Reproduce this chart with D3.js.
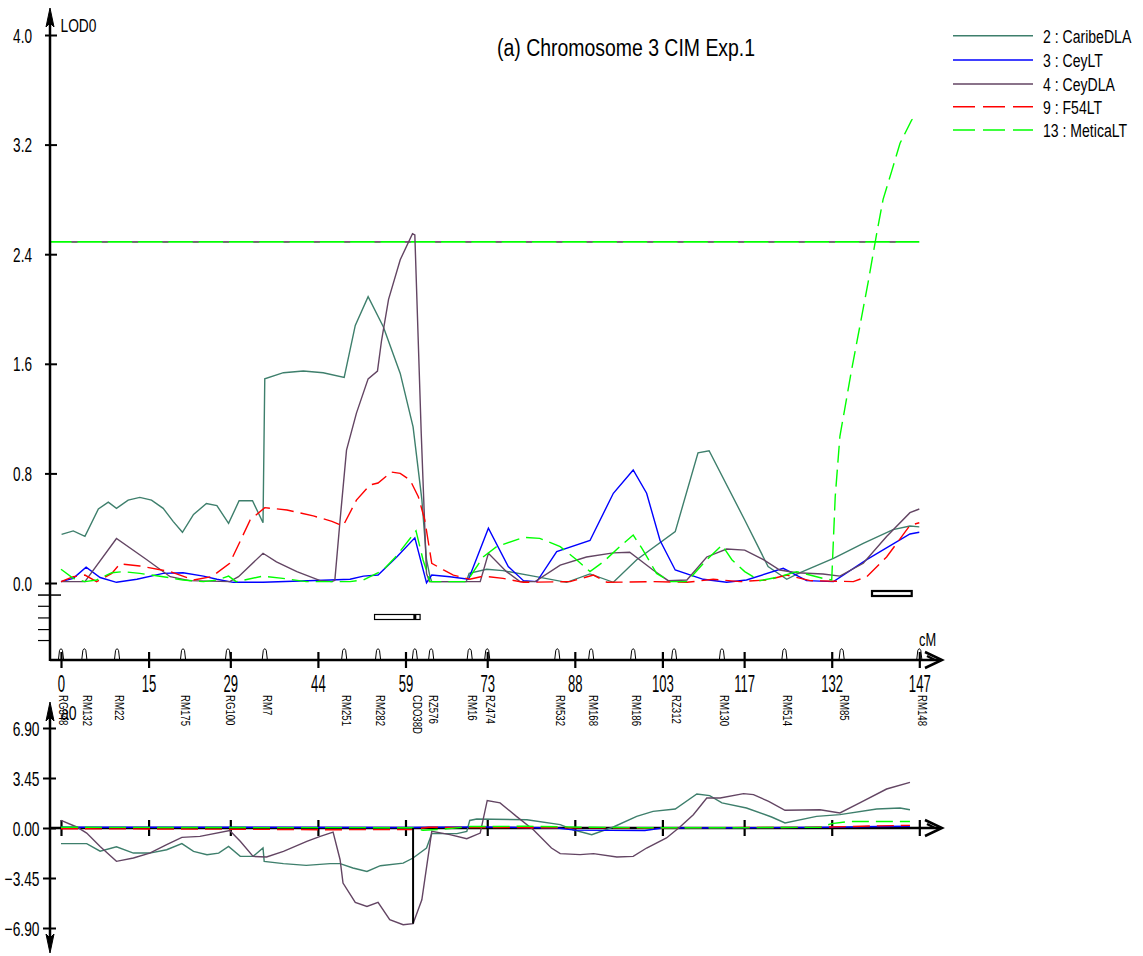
<!DOCTYPE html>
<html>
<head>
<meta charset="utf-8">
<script src="https://cdn.jsdelivr.net/npm/d3@7"></script>
<style>
  body { margin: 0; background: #fff; }
  svg { display: block; }
  text { font-family: "Liberation Sans", Arial, sans-serif; fill: #000; }
</style>
</head>
<body>
<svg id="chart" width="1143" height="956"></svg>
<script>
// ---- Data: LOD profiles along chromosome 3 (cM, LOD) ----
const caribeDLA = [[0.1,0.355],[2.1,0.38],[4.1,0.34],[6.4,0.54],[8.1,0.59],[9.5,0.545],[11.5,0.605],[13.5,0.625],[15.5,0.605],[17.5,0.545],[19.2,0.45],[20.8,0.37],[22.7,0.50],[24.9,0.58],[26.7,0.565],[28.7,0.435],[30.5,0.60],[32.8,0.60],[34.6,0.44],[34.9,1.49],[38.1,1.535],[41.5,1.547],[44.9,1.535],[48.5,1.50],[50.4,1.88],[52.6,2.09],[55.2,1.87],[58.1,1.53],[60.3,1.14],[61.8,0.61],[62.6,0.17],[63.2,0.046],[63.5,0.01],[69.4,0.01],[69.9,0.07],[72.9,0.10],[75.7,0.09],[80.9,0.05],[86.6,0.005],[90.6,0.066],[94.6,0.005],[98.6,0.17],[105.2,0.375],[109.1,0.95],[111.0,0.965],[117.1,0.46],[121.1,0.12],[124.3,0.027],[126.3,0.07],[132.3,0.18],[137.4,0.29],[142.5,0.39],[145.4,0.416],[147,0.41]];
const ceyLT = [[0,0.01],[2.1,0.034],[4.3,0.115],[6.7,0.04],[9.5,0.005],[13.0,0.027],[17.5,0.07],[20.9,0.075],[24.4,0.05],[26.7,0.027],[29.5,0.005],[34.6,0.005],[46.1,0.022],[49.5,0.027],[51.8,0.05],[54.3,0.058],[57.5,0.19],[60.6,0.33],[62.6,0.002],[63.5,0.058],[66.6,0.046],[69.8,0.027],[73.2,0.40],[76.6,0.12],[79.2,0.017],[81.5,0.01],[84.9,0.23],[90.6,0.31],[94.6,0.655],[98.0,0.825],[100.3,0.655],[102.6,0.31],[105.2,0.095],[110,0.027],[114,0.005],[117.4,0.022],[123.7,0.107],[127.7,0.017],[132.3,0.01],[138,0.17],[145.4,0.358],[147,0.37]];
const ceyDLA = [[0,0.01],[4.1,0.01],[9.5,0.325],[14.7,0.17],[18.7,0.046],[22,0.017],[28.9,0.01],[30.4,0.046],[34.6,0.217],[36.9,0.155],[40.4,0.083],[44.4,0.017],[46.4,0.01],[46.9,0.02],[47.8,0.46],[48.9,0.97],[50.6,1.24],[52.6,1.49],[54.2,1.547],[54.9,1.77],[56.1,2.07],[58.1,2.36],[60.2,2.55],[60.6,2.54],[61.7,1.09],[62.6,0.07],[63.1,0.01],[71.8,0.01],[73.2,0.217],[76.3,0.083],[78.6,0.01],[81.2,0.01],[85.5,0.13],[90.0,0.19],[94.6,0.22],[97.4,0.224],[101.4,0.095],[104,0.017],[107.2,0.022],[110.6,0.19],[114.0,0.248],[117.1,0.24],[120.3,0.17],[123.1,0.095],[126,0.075],[130.5,0.066],[133.4,0.05],[137.4,0.144],[141.4,0.34],[145.4,0.513],[147,0.54]];
const f54LT = [[0,0.01],[2.1,0.046],[4.1,0.058],[6.1,0.01],[8.7,0.07],[10.1,0.14],[13.5,0.124],[18.7,0.083],[22.7,0.022],[25.8,0.046],[28.9,0.144],[32.4,0.46],[34.9,0.55],[38.7,0.533],[43.2,0.49],[46.4,0.45],[48.3,0.416],[50.6,0.605],[52.9,0.715],[54.3,0.73],[56.6,0.81],[58.1,0.80],[59.8,0.75],[61.2,0.63],[62.3,0.46],[63.5,0.144],[65.5,0.095],[67.2,0.058],[70,0.027],[72.3,0.05],[75.7,0.034],[79.2,0.005],[87.2,0.01],[91.2,0.058],[93.5,0.005],[101.4,0.01],[107.2,0.005],[111.7,0.027],[116.3,0.01],[120.9,0.022],[124.3,0.058],[128.3,0.017],[135.7,0.01],[138,0.046],[141.4,0.19],[145.4,0.42],[147,0.44]];
const meticaLT = [[0,0.10],[2.1,0.034],[4.1,0.01],[6.1,0.022],[8.7,0.075],[10.7,0.083],[13.5,0.07],[17.5,0.046],[20.9,0.022],[24.4,0.01],[26.7,0.022],[28.7,0.05],[30,0.01],[34.6,0.05],[38,0.034],[42,0.01],[49.5,0.01],[51.8,0.022],[55.2,0.095],[57.5,0.20],[60.8,0.38],[62,0.17],[63.2,0.01],[69.5,0.01],[72.3,0.19],[74.6,0.265],[79.2,0.333],[82,0.326],[85.5,0.265],[88.3,0.17],[90.6,0.083],[92.9,0.155],[95.7,0.265],[98,0.35],[99.5,0.253],[102,0.07],[104.3,0.01],[107.2,0.01],[110.6,0.17],[113.2,0.277],[114.9,0.17],[117.1,0.083],[119.7,0.017],[123.1,0.046],[126,0.083],[130.5,0.034],[132,0.022],[132.6,0.63],[133.4,1.07],[134.6,1.36],[135.4,1.555],[136.8,1.87],[138.3,2.21],[139.7,2.55],[140.8,2.80],[142.3,3.01],[143.7,3.21],[145.7,3.38],[146.3,3.40]];

// ---- Data: additive effects (cM, effect) ----
const caribeDLAAdd = [[0,-1.08],[4.4,-1.08],[6.7,-1.6],[9.5,-1.3],[12.4,-1.73],[15.2,-1.73],[18.1,-1.5],[20.7,-1.08],[22.7,-1.61],[25,-1.84],[27,-1.73],[28.7,-1.27],[30.7,-1.96],[32.9,-1.96],[34.6,-1.38],[34.8,-2.3],[38.1,-2.46],[42,-2.58],[46.1,-2.46],[47.8,-2.46],[50,-2.76],[52.4,-3.0],[54.7,-2.6],[58.6,-2.42],[60.3,-2.07],[62.6,-1.38],[63.5,-0.39],[67.8,-0.39],[69.5,-0.23],[70,0.52],[71.2,0.62],[79.8,0.57],[85.5,0.23],[87.7,-0.12],[90.9,-0.46],[94.6,0.07],[98.6,0.80],[101.4,1.15],[105.2,1.31],[108.9,2.35],[111.1,2.23],[113.2,1.73],[117.4,1.38],[121.7,0.76],[124,0.35],[129.4,0.80],[133.4,0.92],[139.7,1.31],[143.7,1.38],[145.4,1.26]];
const ceyLTAdd = [[0,0.05],[30,0.05],[60,0.03],[63,0.05],[72,0.08],[85,0.0],[88,-0.15],[100,-0.17],[103,0.0],[117,0.02],[132,0.05],[140,0.1],[145.4,0.12]];
const ceyDLAAdd = [[0,0.52],[2.7,0.07],[4.4,-0.35],[6.7,-1.27],[9.5,-2.3],[12.4,-2.07],[15.2,-1.73],[18.1,-1.15],[20.7,-0.65],[23.8,-0.58],[28.9,-0.17],[30.7,-0.92],[32.9,-1.96],[35.2,-2.0],[38.1,-1.61],[42.1,-0.92],[44.4,-0.58],[46.6,-0.28],[47.8,-2.19],[48.3,-3.8],[50.4,-5.13],[52.4,-5.41],[54.3,-5.13],[56.3,-6.33],[58.6,-6.67],[60.3,-6.6],[61.8,-4.95],[63.5,-0.23],[66.6,-0.46],[69.5,-0.74],[71.8,-0.35],[73,1.9],[75.2,1.73],[78,0.80],[80.9,-0.12],[84,-1.38],[85.5,-1.77],[88.9,-1.84],[91.2,-1.77],[95.2,-2.0],[98,-1.96],[100.3,-1.38],[103.7,-0.69],[106,0.07],[108.3,0.92],[110.6,2.07],[112.9,2.07],[116.9,2.37],[118.6,2.3],[121.2,1.84],[124,1.22],[130,1.26],[133.4,1.04],[136.8,1.73],[141.4,2.69],[145.4,3.15]];
const f54LTAdd = [[0,-0.05],[28,-0.08],[45,-0.12],[60,-0.1],[63,0.05],[80,0.02],[100,0.0],[130,0.05],[140,0.15],[145.4,0.18]];
const meticaLTAdd = [[0,0.05],[30,0.03],[60,0.02],[62,-0.15],[65,-0.1],[70,0.1],[80,0.12],[90,0.05],[100,0.02],[115,0.02],[130,0.05],[132,0.3],[135,0.45],[145.4,0.45]];

// Peak of the CeyDLA QTL (cM, additive effect)
const peakEffect = [60.3, -6.6];

// ---- Axes, markers, threshold, support intervals ----
const xTicks = [0,15,29,44,59,73,88,103,117,132,147];
const lodTicks = [0.0,0.8,1.6,2.4,3.2,4.0];
const addTicks = [6.9,3.45,0,-3.45,-6.9];
const lodMinorTicks = [-0.17,-0.255,-0.34,-0.42];
const threshold = 2.49;
const markerPos = [0,4.0,9.6,20.9,28.6,34.9,48.5,54.3,60.6,63.4,70.0,73.0,85.0,90.8,98.0,105.0,113.2,123.9,133.7,147];
const markerNames = ["RG348","RM132","RM22","RM175","RG100","RM7","RM251","RM282","CDO38D","RZ576","RM16","RZ474","RM532","RM168","RM186","RZ312","RM130","RM514","RM85","RM148"];
const intervals = [[53.7,61.5],[138.9,145.7]];
const intervalPeak = 60.6;

const seriesNames = ["2 : CaribeDLA","3 : CeyLT","4 : CeyDLA","9 : F54LT","13 : MeticaLT"];
const seriesColors = ["#3e7f6c","#0000ff","#634563","#ff0000","#00ff00"];
const seriesDash = [null,null,null,"17,7","17,7"];
const lodSeries = [caribeDLA, ceyLT, ceyDLA, f54LT, meticaLT];
const addSeries = [caribeDLAAdd, ceyLTAdd, ceyDLAAdd, f54LTAdd, meticaLTAdd];

const svg = d3.select("#chart");
svg.append("rect").attr("width",1143).attr("height",956).attr("fill","#fff");

const x = d3.scaleLinear().domain([0,147]).range([61,919.3]);
const yTop = d3.scaleLinear().domain([0,4]).range([583,35]);
const yBot = d3.scaleLinear().domain([-6.9,6.9]).range([928,728]);
const AX = 50;

function label(g, px, py, str, size, sx, anchor, rot) {
  return g.append("text")
    .attr("transform", `translate(${px},${py})` + (rot ? ` rotate(${rot})` : "") + ` scale(${sx},1)`)
    .attr("font-size", size)
    .attr("text-anchor", anchor || "start")
    .text(str);
}

// ---------- Upper panel: LOD ----------
const gTop = svg.append("g");

// threshold line
gTop.append("line").attr("x1",AX).attr("x2",x(147)).attr("y1",yTop(threshold)).attr("y2",yTop(threshold))
  .attr("stroke","#00ff00").attr("stroke-width",1.6);
gTop.append("line").attr("x1",AX).attr("x2",x(147)).attr("y1",yTop(threshold)).attr("y2",yTop(threshold))
  .attr("stroke","#7a5a7a").attr("stroke-width",1.6).attr("stroke-dasharray","6,24.3").attr("stroke-dashoffset",8.8);

// LOD curves
const lineTop = d3.line().x(d => x(d[0])).y(d => yTop(d[1]));
lodSeries.forEach((s,i) => {
  gTop.append("path").datum(s).attr("d", lineTop).attr("fill","none")
    .attr("stroke", seriesColors[i]).attr("stroke-width",1.4)
    .attr("stroke-dasharray", seriesDash[i]);
});

// support intervals
gTop.append("rect").attr("x",x(intervals[0][0])).attr("y",614.5)
  .attr("width",x(intervals[0][1])-x(intervals[0][0])).attr("height",5)
  .attr("fill","#fff").attr("stroke","#000").attr("stroke-width",1.2);
gTop.append("rect").attr("x",x(intervalPeak)-1.5).attr("y",614.5).attr("width",3).attr("height",5).attr("fill","#000");
gTop.append("rect").attr("x",x(intervals[1][0])).attr("y",591)
  .attr("width",x(intervals[1][1])-x(intervals[1][0])).attr("height",5)
  .attr("fill","#fff").attr("stroke","#000").attr("stroke-width",2.2);

// y axis
gTop.append("line").attr("x1",AX).attr("x2",AX).attr("y1",20).attr("y2",661).attr("stroke","#000").attr("stroke-width",2.5);
gTop.append("path").attr("d",`M${AX},8 L${AX-4},27 L${AX},23 L${AX+4},27 Z`).attr("fill","#000").attr("stroke","#000").attr("stroke-width",1);
const gy = gTop.append("g").attr("transform",`translate(${AX},0)`)
  .call(d3.axisLeft(yTop).tickValues(lodTicks).tickFormat(d3.format(".1f")).tickSize(0));
gy.select(".domain").remove();
gy.selectAll(".tick line").attr("x1",-5).attr("x2",7).attr("stroke","#000").attr("stroke-width",2);
gy.selectAll(".tick text").attr("x",0).attr("dy",null).attr("font-size",20).attr("text-anchor","end")
  .attr("transform","translate(-18,7) scale(0.68,1)");
gTop.append("line").attr("x1",38).attr("x2",61).attr("y1",yTop(-0.088)).attr("y2",yTop(-0.088)).attr("stroke","#000").attr("stroke-width",1.5);
lodMinorTicks.forEach(v => {
  gTop.append("line").attr("x1",38).attr("x2",AX).attr("y1",yTop(v)).attr("y2",yTop(v)).attr("stroke","#000").attr("stroke-width",1.2);
});
label(gTop, 60.5, 31.5, "LOD0", 18.6, 0.74);

// x axis
gTop.append("line").attr("x1",AX).attr("x2",941).attr("y1",660).attr("y2",660).attr("stroke","#000").attr("stroke-width",2.5);
gTop.append("path").attr("d","M925,652 L942,660 L925,668 M927,656 L935,660").attr("fill","none").attr("stroke","#000").attr("stroke-width",2.5);
const gx = gTop.append("g").attr("transform","translate(0,660)")
  .call(d3.axisBottom(x).tickValues(xTicks).tickFormat(d3.format("d")).tickSize(0));
gx.select(".domain").remove();
gx.selectAll(".tick line").attr("y1",-8).attr("y2",8).attr("stroke","#000").attr("stroke-width",2.2);
gx.selectAll(".tick text").attr("y",0).attr("dy",null).attr("font-size",23)
  .attr("transform","translate(0,31.5) scale(0.57,1)");
label(gTop, 919, 646, "cM", 18.6, 0.69);

// markers
const mg = gTop.append("g");
markerPos.forEach((m,i) => {
  const mx = x(m);
  mg.append("path").attr("d",`M${mx-2.5},659 L${mx-1.5},650.5 Q${mx},647 ${mx+1.5},650.5 L${mx+2.5},659`)
    .attr("fill","none").attr("stroke","#000").attr("stroke-width",1);
  label(mg, mx-1.7, 695, markerNames[i], 12.5, 0.77, "start", 90);
});

// title
label(svg, 497, 56, "(a) Chromosome 3 CIM Exp.1", 24, 0.81);

// legend
const lg = svg.append("g");
const legendRows = [35.7,60,84,106.7,130];
seriesNames.forEach((n,i) => {
  lg.append("line").attr("x1",953).attr("x2",1033).attr("y1",legendRows[i]).attr("y2",legendRows[i])
    .attr("stroke",seriesColors[i]).attr("stroke-width",1.4).attr("stroke-dasharray", seriesDash[i] ? "22,8" : null);
  label(lg, 1043, legendRows[i]+7, n, 19, 0.74);
});

// ---------- Lower panel: additive effects ----------
const gBot = svg.append("g");
gBot.append("line").attr("x1",AX).attr("x2",941).attr("y1",yBot(0)).attr("y2",yBot(0)).attr("stroke","#000").attr("stroke-width",2.5);
gBot.append("path").attr("d",`M925,${yBot(0)-8} L942,${yBot(0)} L925,${yBot(0)+8} M927,${yBot(0)-4} L935,${yBot(0)}`).attr("fill","none").attr("stroke","#000").attr("stroke-width",2.5);
const gbx = gBot.append("g").attr("transform",`translate(0,${yBot(0)})`)
  .call(d3.axisBottom(x).tickValues(xTicks).tickFormat("").tickSize(0));
gbx.select(".domain").remove();
gbx.selectAll(".tick line").attr("y1",-8).attr("y2",8).attr("stroke","#000").attr("stroke-width",2.2);

gBot.append("line").attr("x1",AX).attr("x2",AX).attr("y1",712).attr("y2",940).attr("stroke","#000").attr("stroke-width",2.5);
gBot.append("path").attr("d",`M${AX},702 L${AX-4},721 L${AX},717 L${AX+4},721 Z`).attr("fill","#000").attr("stroke","#000").attr("stroke-width",1);
gBot.append("path").attr("d",`M${AX},953 L${AX-4},934 L${AX},938 L${AX+4},934 Z`).attr("fill","#000").attr("stroke","#000").attr("stroke-width",1);
const gby = gBot.append("g").attr("transform",`translate(${AX},0)`)
  .call(d3.axisLeft(yBot).tickValues(addTicks).tickFormat(d3.format(".2f")).tickSize(0));
gby.select(".domain").remove();
gby.selectAll(".tick line").attr("x1",-7).attr("x2",6).attr("stroke","#000").attr("stroke-width",2);
gby.selectAll(".tick text").attr("x",0).attr("dy",null).attr("font-size",20).attr("text-anchor","end")
  .attr("transform","translate(-10.5,7) scale(0.69,1)");
label(gBot, 61, 720, "a0", 20, 0.7);

const lineBot = d3.line().x(d => x(d[0])).y(d => yBot(d[1]));
addSeries.forEach((s,i) => {
  gBot.append("path").datum(s).attr("d", lineBot).attr("fill","none")
    .attr("stroke", seriesColors[i]).attr("stroke-width",1.4)
    .attr("stroke-dasharray", seriesDash[i]);
});
gBot.append("line").attr("x1",x(peakEffect[0])).attr("x2",x(peakEffect[0]))
  .attr("y1",yBot(0)).attr("y2",yBot(peakEffect[1])).attr("stroke","#000").attr("stroke-width",2);
</script>
</body>
</html>
